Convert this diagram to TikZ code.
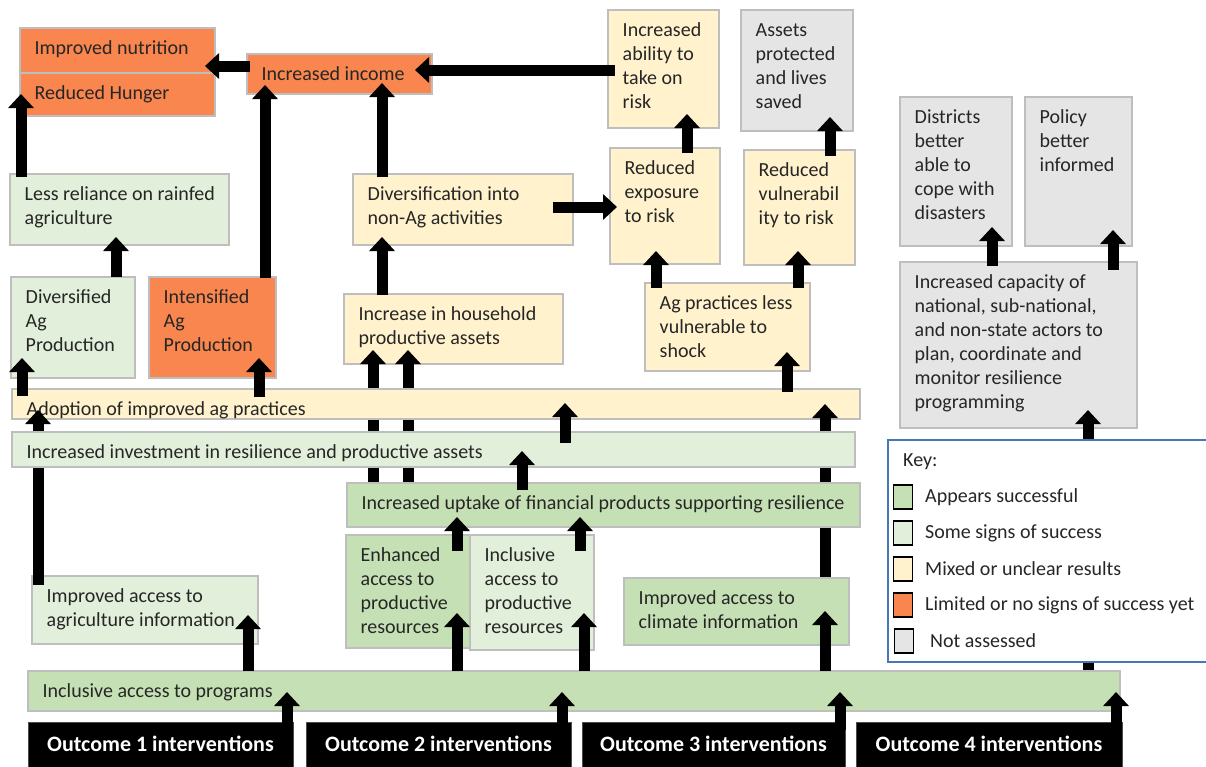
\documentclass[tikz,border=0pt]{standalone}
\usepackage{fontspec}
\setmainfont{Carlito}
\usetikzlibrary{arrows.meta,calc,fit}

\definecolor{cgood}{RGB}{197,224,180}
\definecolor{csome}{RGB}{226,239,218}
\definecolor{cmixed}{RGB}{255,242,204}
\definecolor{clim}{RGB}{248,134,78}
\definecolor{cna}{RGB}{229,229,229}
\definecolor{cedge}{RGB}{190,190,190}
\definecolor{ckey}{RGB}{70,120,180}
\definecolor{ctext}{RGB}{38,38,38}

\pgfdeclarelayer{bg}
\pgfdeclarelayer{tierA}
\pgfdeclarelayer{hidA}
\pgfdeclarelayer{tierB}
\pgfdeclarelayer{hidB}
\pgfdeclarelayer{fg}
\pgfsetlayers{bg,tierA,hidA,tierB,hidB,main,fg}

% status box: name, fill, x1, y1, x2, y2, text
\newcommand\statebox[7]{%
  \node[box, fill=#2, fit={(#3,#4) (#5,#6)}] (#1) {};
  \node[lbl] (#1-t) at (#3+14.5,#4+9.8) {\strut #7};
}
% upward link: source, target, x, start inset into source, tip inset into target
\newcommand\vlink[5]{%
  \draw[arr] ($(#1.north -| #3,0)+(0,#4)$) -- ($(#2.south -| #3,0)+(0,-#5)$);
}

\begin{document}
\begin{tikzpicture}[x=1pt,y=-1pt,
  box/.style={draw=cedge, line width=1.6pt, inner sep=0pt, outer sep=0pt},
  lbl/.style={anchor=north west, inner sep=0pt, align=left, text=ctext,
              font=\fontsize{20}{24}\selectfont},
  arr/.style={line width=11pt, -{Triangle[width=25pt,length=14pt]}},
  outc/.style={fill=black, draw=black!70, line width=1pt, inner sep=0pt},
  outt/.style={text=white, font=\fontsize{22}{26}\selectfont\bfseries},
  keysq/.style={draw=black, line width=1.5pt, minimum width=19pt, minimum height=24pt, inner sep=0pt},
  keyt/.style={anchor=west, inner sep=0pt, text=ctext, font=\fontsize{20}{24}\selectfont}]

\useasboundingbox (0,0) rectangle (1206,766);
\begin{pgfonlayer}{bg}
  \fill[white] (0,0) rectangle (1206,766);
\end{pgfonlayer}

% upper outcome boxes
\begin{pgfonlayer}{tierA}
  \statebox{nutr}{clim}{20}{28}{215}{73}{Improved nutrition}
  \statebox{hunger}{clim}{20}{73}{215}{116}{Reduced Hunger}
  \statebox{income}{clim}{247}{54}{432}{94}{Increased income}
  \statebox{ability}{cmixed}{608}{10}{719}{128}{Increased\\ability to\\take on\\risk}
  \statebox{assets}{cna}{741}{10}{853}{131}{Assets\\protected\\and lives\\saved}
  \statebox{exposure}{cmixed}{610}{148}{720}{264}{Reduced\\exposure\\to risk}
  \statebox{vuln}{cmixed}{744}{150}{855}{265}{Reduced\\vulnerabil\\ity to risk}
  \statebox{districts}{cna}{900}{97}{1012}{246}{Districts\\better\\able to\\cope with\\disasters}
  \statebox{policy}{cna}{1025}{97}{1132}{246}{Policy\\better\\informed}
  \statebox{capacity}{cna}{900}{262}{1137}{428}{Increased capacity of\\national, sub-national,\\and non-state actors to\\plan, coordinate and\\monitor resilience\\programming}
  \statebox{less}{csome}{10}{174}{229}{245}{Less reliance on rainfed\\agriculture}
  \statebox{divers}{cmixed}{353}{174}{573}{245}{Diversification into\\non-Ag activities}
  \statebox{divag}{csome}{11}{277}{135}{378}{Diversified\\Ag\\Production}
  \statebox{intag}{clim}{149}{277}{276}{378}{Intensified\\Ag\\Production}
  \statebox{house}{cmixed}{344}{294}{563}{364}{Increase in household\\productive assets}
  \statebox{agprac}{cmixed}{645}{283}{810}{371}{Ag practices less\\vulnerable to\\shock}
\end{pgfonlayer}

% practice bar and information box
\begin{pgfonlayer}{tierB}
  \statebox{adopt}{cmixed}{12}{389}{860}{419}{Adoption of improved ag practices}
  \statebox{aginfo}{csome}{32}{576}{258}{644}{Improved access to\\agriculture information}
\end{pgfonlayer}

% lower boxes
\statebox{invest}{csome}{12}{432}{855}{467}{Increased investment in resilience and productive assets}
\statebox{fin}{cgood}{347}{483}{860}{527}{Increased uptake of financial products supporting resilience}
\statebox{enh}{cgood}{346}{535}{470}{648}{Enhanced\\access to\\productive\\resources}
\statebox{incl}{csome}{470}{535}{594}{650}{Inclusive\\access to\\productive\\resources}
\statebox{climate}{cgood}{624}{578}{849}{645}{Improved access to\\climate information}
\statebox{prog}{cgood}{28}{671}{1120}{711}{Inclusive access to programs}

% intervention blocks
\node[outc, fit={(28,722) (293,772)}] (o1) {};
\node[outt] (o1-t) at (o1.center |- 0,744) {Outcome 1 interventions};
\node[outc, fit={(306,722) (571,772)}] (o2) {};
\node[outt] (o2-t) at (o2.center |- 0,744) {Outcome 2 interventions};
\node[outc, fit={(582,722) (845,772)}] (o3) {};
\node[outt] (o3-t) at (o3.center |- 0,744) {Outcome 3 interventions};
\node[outc, fit={(856,722) (1122,772)}] (o4) {};
\node[outt] (o4-t) at (o4.center |- 0,744) {Outcome 4 interventions};

% key
\node[draw=ckey, line width=1.5pt, fill=white, inner sep=0pt, fit={(888,440) (1216,662)}] (key) {};
\node[keyt] (key-t) at (903,462) {Key:};
\node[keysq, fill=cgood] (k1) at (903,497) {};
\node[keyt] (k1-t) at (925,497) {Appears successful};
\node[keysq, fill=csome] (k2) at (903,533) {};
\node[keyt] (k2-t) at (925,533) {Some signs of success};
\node[keysq, fill=cmixed] (k3) at (903,569) {};
\node[keyt] (k3-t) at (925,569) {Mixed or unclear results};
\node[keysq, fill=clim] (k4) at (903,605) {};
\node[keyt] (k4-t) at (925,605) {Limited or no signs of success yet};
\node[keysq, fill=cna] (k5) at (904,641) {};
\node[keyt] (k5-t) at (930,641) {Not assessed};

% links passing behind the practice bar
\begin{pgfonlayer}{hidA}
  \vlink{fin}{house}{373}{15}{14}
  \vlink{fin}{house}{408}{15}{14}
\end{pgfonlayer}

% links passing behind the lower boxes and the key
\begin{pgfonlayer}{hidB}
  \vlink{aginfo}{adopt}{38}{9}{9}
  \vlink{climate}{adopt}{825}{0}{15}
  \vlink{prog}{capacity}{1088}{5}{18}
\end{pgfonlayer}

\begin{pgfonlayer}{fg}
  % horizontal links
  \draw[arr] ($(income.west |- 0,66)+(3,0)$) -- ($(nutr.east |- 0,66)+(-10,0)$);
  \draw[arr] ($(ability.west |- 0,70)+(7,0)$) -- ($(income.east |- 0,70)+(-17,0)$);
  \draw[arr] ($(divers.east |- 0,207)+(-20,0)$) -- ($(exposure.west |- 0,207)+(7,0)$);
  % upward links
  \vlink{less}{hunger}{21}{3}{22}
  \vlink{intag}{income}{265}{1}{9}
  \vlink{divers}{income}{382}{3}{11}
  \vlink{divag}{less}{116}{0}{8}
  \vlink{house}{divers}{382}{1}{8}
  \vlink{exposure}{ability}{687}{5}{14}
  \vlink{vuln}{assets}{830}{6}{14}
  \vlink{agprac}{exposure}{656}{5}{13}
  \vlink{agprac}{vuln}{798}{5}{14}
  \vlink{adopt}{agprac}{787}{3}{19}
  \vlink{capacity}{districts}{992}{4}{19}
  \vlink{capacity}{policy}{1113}{8}{16}
  \vlink{adopt}{divag}{22}{7}{20}
  \vlink{adopt}{intag}{259}{8}{20}
  \vlink{invest}{adopt}{565}{11}{16}
  \vlink{fin}{invest}{522}{7}{16}
  \vlink{enh}{fin}{457}{16}{10}
  \vlink{incl}{fin}{580}{16}{10}
  \vlink{prog}{enh}{457}{0}{35}
  \vlink{prog}{incl}{584}{0}{37}
  \vlink{prog}{aginfo}{248}{0}{29}
  \vlink{prog}{climate}{825}{0}{34}
  \vlink{o1}{prog}{287}{8}{19}
  \vlink{o2}{prog}{562}{8}{19}
  \vlink{o3}{prog}{840}{8}{19}
  \vlink{o4}{prog}{1116}{8}{19}
\end{pgfonlayer}
\end{tikzpicture}
\end{document}
